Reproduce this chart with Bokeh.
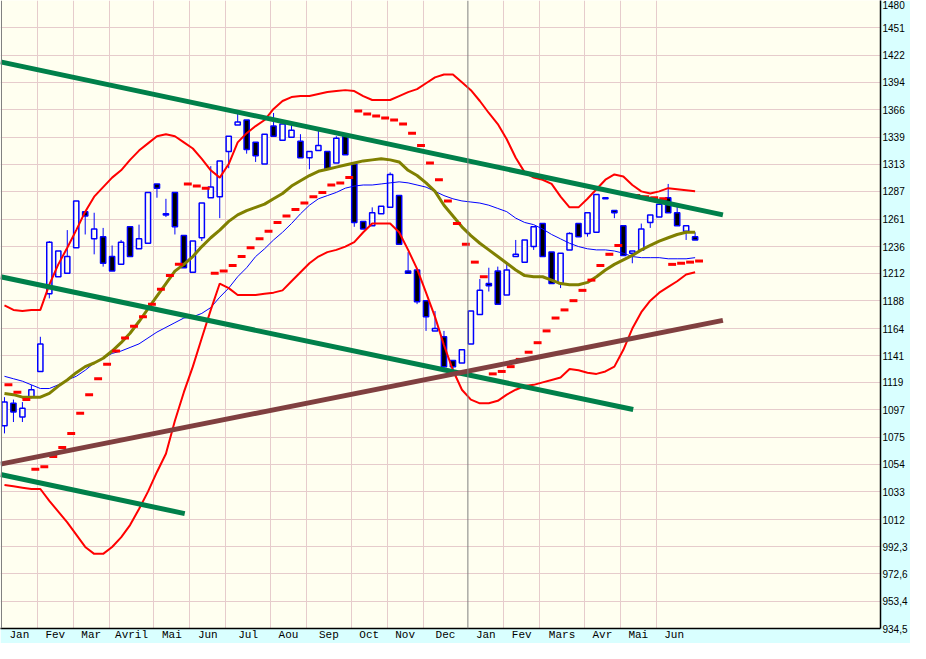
from bokeh.plotting import figure
from bokeh.models import Range1d, FixedTicker, CustomJSTickFormatter, Span, ColumnDataSource
from bokeh.embed import file_html
from bokeh.resources import INLINE

# ---- weekly candles (index = week) ----
open_ = [1084, 1102, 1091, 1107, 1128, 1194, 1209, 1212, 1235, 1268, 1243, 1245, 1227, 1220, 1254, 1234,
         1239, 1294, 1265, 1286, 1246, 1213, 1244, 1281, 1282, 1325, 1351, 1356, 1334, 1313, 1350, 1336,
         1339, 1335, 1319, 1326, 1325, 1314, 1340, 1313, 1259, 1255, 1266, 1272, 1283, 1214, 1215, 1188,
         1162, 1157, 1137, 1135, 1151, 1176, 1203, 1214, 1193, 1227, 1222, 1236, 1257, 1231, 1203, 1233,
         1257, 1248, 1249, 1280, 1269, 1255, 1230, 1233, 1258, 1263, 1281, 1267, 1250, 1245]
high = [1107, 1105, 1103, 1117, 1157, 1241, 1232, 1251, 1278, 1268, 1267, 1253, 1237, 1242, 1254, 1256,
        1286, 1294, 1280, 1286, 1246, 1241, 1276, 1311, 1316, 1340, 1365, 1356, 1334, 1342, 1363, 1352,
        1351, 1342, 1325, 1346, 1325, 1340, 1342, 1313, 1259, 1272, 1273, 1305, 1283, 1231, 1215, 1188,
        1179, 1162, 1137, 1146, 1179, 1207, 1217, 1218, 1222, 1242, 1242, 1254, 1257, 1231, 1230, 1249,
        1257, 1267, 1284, 1281, 1269, 1255, 1232, 1257, 1265, 1275, 1294, 1276, 1255, 1249]
low = [1078, 1087, 1087, 1106, 1128, 1190, 1209, 1212, 1235, 1247, 1229, 1218, 1214, 1220, 1227, 1234,
       1239, 1281, 1263, 1247, 1217, 1213, 1241, 1281, 1262, 1309, 1351, 1323, 1315, 1313, 1340, 1336,
       1339, 1319, 1308, 1326, 1308, 1314, 1322, 1254, 1252, 1255, 1266, 1272, 1238, 1212, 1185, 1162,
       1162, 1129, 1130, 1135, 1151, 1176, 1196, 1185, 1193, 1227, 1222, 1233, 1227, 1203, 1199, 1233,
       1245, 1245, 1249, 1280, 1262, 1228, 1221, 1233, 1253, 1263, 1267, 1255, 1242, 1242]
close = [1103, 1095, 1098, 1113, 1151, 1240, 1232, 1227, 1278, 1264, 1252, 1221, 1214, 1240, 1227, 1243,
         1286, 1290, 1266, 1254, 1217, 1241, 1276, 1291, 1316, 1340, 1354, 1327, 1321, 1342, 1340, 1352,
         1346, 1319, 1325, 1331, 1308, 1338, 1322, 1258, 1252, 1267, 1273, 1303, 1238, 1212, 1187, 1174,
         1164, 1132, 1132, 1146, 1179, 1197, 1201, 1185, 1215, 1229, 1242, 1254, 1227, 1203, 1230, 1248,
         1245, 1267, 1284, 1281, 1267, 1228, 1232, 1252, 1265, 1275, 1267, 1255, 1255, 1242]

# ---- indicators ----
upper_band = [1184, 1180, 1179, 1180, 1180, 1202, 1220, 1235, 1251, 1268, 1282, 1291, 1300, 1307, 1317, 1326,
              1333, 1340, 1342, 1340, 1334, 1328, 1318, 1307, 1300, 1313, 1334, 1343, 1350, 1356, 1367, 1375,
              1379, 1380, 1380, 1382, 1384, 1385, 1386, 1385, 1380, 1376, 1376, 1376, 1380, 1384, 1387, 1393,
              1399, 1402, 1402, 1394, 1386, 1375, 1363, 1352, 1337, 1319, 1305, 1300, 1298, 1294, 1282, 1272,
              1272, 1280, 1289, 1298, 1303, 1301, 1293, 1287, 1285, 1287, 1290, 1289, 1288, 1287]
lower_band = [1038, 1037, 1036, 1035, 1035, 1026, 1018, 1010, 1001, 992, 987, 987, 992, 999, 1008, 1020,
              1033, 1048, 1062, 1088, 1111, 1132, 1156, 1180, 1203, 1199, 1193, 1193, 1193, 1194, 1195, 1197,
              1205, 1213, 1221, 1227, 1231, 1233, 1236, 1240, 1249, 1257, 1257, 1257, 1249, 1233, 1216, 1195,
              1174, 1150, 1129, 1113, 1105, 1102, 1102, 1104, 1109, 1113, 1116, 1117, 1119, 1121, 1123, 1130,
              1129, 1127, 1126, 1128, 1132, 1146, 1164, 1178, 1188, 1195, 1200, 1205, 1211, 1213]
ma_olive = [1110, 1109, 1107, 1107, 1107, 1110, 1116, 1121, 1127, 1132, 1135, 1139, 1145, 1152, 1160, 1170,
            1181, 1192, 1203, 1214, 1220, 1227, 1236, 1244, 1251, 1259, 1265, 1269, 1272, 1275, 1280, 1285,
            1292, 1297, 1302, 1306, 1308, 1310, 1312, 1314, 1316, 1317, 1318, 1317, 1315, 1307, 1302, 1295,
            1287, 1274, 1264, 1254, 1246, 1239, 1233, 1227, 1221, 1215, 1210, 1209, 1209, 1206, 1203, 1202,
            1202, 1204, 1209, 1215, 1220, 1224, 1228, 1233, 1237, 1241, 1244, 1247, 1249, 1249]
ma_blue = [1124, 1122, 1120, 1117, 1114, 1114, 1117, 1121, 1124, 1129, 1135, 1139, 1143, 1145, 1148, 1151,
           1156, 1161, 1165, 1169, 1173, 1174, 1177, 1182, 1191, 1199, 1209, 1217, 1227, 1234, 1242, 1249,
           1257, 1266, 1274, 1280, 1283, 1286, 1290, 1292, 1293, 1293, 1294, 1295, 1296, 1295, 1293, 1291,
           1287, 1283, 1280, 1278, 1277, 1276, 1274, 1271, 1268, 1262, 1258, 1256, 1252, 1247, 1243, 1239,
           1236, 1234, 1233, 1233, 1232, 1230, 1227, 1226, 1226, 1226, 1225, 1225, 1225, 1226]
sar = [1117, 1111, 1105, 1050, 1052, 1060, 1067, 1078, 1094, 1109, 1122, 1134, 1145, 1156, 1166, 1174,
       1185, 1198, 1210, 1220, 1294, 1292, 1290, 1212, 1214, 1219, 1227, 1235, 1243, 1250, 1258, 1264,
       1270, 1276, 1282, 1286, 1293, 1295, 1300, 1365, 1362, 1360, 1358, 1356, 1352, 1343, 1331, 1314,
       1298, 1278, 1257, 1238, 1222, 1209, 1126, 1128, 1132, 1138, 1144, 1152, 1162, 1173, 1180, 1188,
       1197, 1206, 1219, 1229, 1237, 1284, 1283, 1282, 1281, 1280, 1220, 1221, 1222, 1223]

# ---- trend lines: (week, price) endpoints ----
trend_top_x, trend_top_y = [-0.44, 80.1], [1415, 1265]
trend_mid_x, trend_mid_y = [-0.44, 70.1], [1209, 1097]
trend_low_x, trend_low_y = [-0.44, 20.1], [1046, 1016.5]
support_x, support_y = [-0.44, 80.1], [1054, 1171]

# ---- axes ----
month_labels = ["Jan", "Fev", "Mar", "Avril", "Mai", "Jun", "Jul", "Aou", "Sep", "Oct", "Nov", "Dec",
                "Jan", "Fev", "Mars", "Avr", "Mai", "Jun"]
month_start = [0, 4, 8, 12, 17, 21, 25, 30, 34, 39, 43, 47, 52, 56, 60, 65, 69, 73, 77]
year_start = [0, 52]
price_ticks = [934.5, 953.4, 972.6, 992.3, 1012, 1033, 1054, 1075, 1097, 1119, 1141, 1164, 1188, 1212,
               1236, 1261, 1287, 1313, 1339, 1366, 1394, 1422, 1451, 1480]

BG = "#FFFFF0"
PANEL = "#D9FFFF"
GRID = "#E6CCCC"
OFF = 1.0 / 3.0  # candle drawn late in its week; grid at week start

n = len(close)
weeks = list(range(n))
src = ColumnDataSource(dict(x=weeks, h=high, l=low))
white_idx = [i for i in weeks if close[i] >= open_[i]]
black_idx = [i for i in weeks if close[i] < open_[i]]

p = figure(width=910, height=643, output_backend="svg", toolbar_location=None,
           y_axis_type="log", y_axis_location="right",
           x_range=Range1d(-0.444, 97.67), y_range=Range1d(934.5, 1480),
           min_border_left=0, min_border_top=0, min_border_right=27, min_border_bottom=13)
p.background_fill_color = BG
p.border_fill_color = PANEL
p.outline_line_color = None

# grids
p.ygrid.ticker = FixedTicker(ticks=price_ticks)
p.ygrid.grid_line_color = GRID
p.ygrid.grid_line_width = 1
p.xgrid.ticker = FixedTicker(ticks=[m - OFF for m in month_start[:-1] if m not in year_start])
p.xgrid.grid_line_color = GRID
p.xgrid.grid_line_width = 1
for ys in year_start:
    p.add_layout(Span(location=ys - OFF, dimension="height", line_color="#808080", line_width=1))

# y axis
ya = p.yaxis[0]
ya.ticker = FixedTicker(ticks=price_ticks)
ya.formatter = CustomJSTickFormatter(code="return String(tick).replace('.', ',')")
ya.major_tick_line_color = None
ya.minor_tick_line_color = None
ya.major_tick_out = 0
ya.major_tick_in = 0
ya.minor_tick_out = 0
ya.minor_tick_in = 0
ya.axis_line_color = "black"
ya.axis_line_width = 1.5
ya.major_label_standoff = 2
ya.major_label_text_font = "Liberation Sans"
ya.major_label_text_font_size = "10px"
ya.major_label_text_color = "black"

# x axis
xa = p.xaxis[0]
centers = [(month_start[k] + month_start[k + 1]) / 2 - OFF for k in range(len(month_labels))]
xa.ticker = FixedTicker(ticks=centers)
xa.formatter = CustomJSTickFormatter(args=dict(labels=month_labels), code="return labels[index]")
xa.major_tick_line_color = None
xa.minor_tick_line_color = None
xa.major_tick_out = 0
xa.major_tick_in = 0
xa.minor_tick_out = 0
xa.minor_tick_in = 0
xa.axis_line_color = "black"
xa.axis_line_width = 1.5
xa.major_label_standoff = 0
xa.major_label_text_font = "Liberation Mono"
xa.major_label_text_font_size = "11px"
xa.major_label_text_color = "black"

# candles
p.segment(x0="x", y0="h", x1="x", y1="l", source=src, line_color="#0000FF", line_width=1)
p.vbar(x=[weeks[i] for i in white_idx], top=[max(open_[i], close[i]) for i in white_idx],
       bottom=[min(open_[i], close[i]) for i in white_idx], width=0.58,
       fill_color=BG, line_color="#0000FF", line_width=1.5)
p.vbar(x=[weeks[i] for i in black_idx], top=[max(open_[i], close[i]) for i in black_idx],
       bottom=[min(open_[i], close[i]) for i in black_idx], width=0.58,
       fill_color="black", line_color="#0000FF", line_width=1.5)

# indicators
p.line(weeks, ma_blue, line_color="#0000FF", line_width=1)
p.line(weeks, ma_olive, line_color="#808000", line_width=3)
p.line(weeks, upper_band, line_color="#FF0000", line_width=2)
p.line(weeks, lower_band, line_color="#FF0000", line_width=2)
p.rect(x=[w + 0.44 for w in weeks], y=sar, width=0.88, height=3, height_units="screen",
       fill_color="#FF0000", line_color=None)

# trend lines
p.line(trend_top_x, trend_top_y, line_color="#00804A", line_width=5)
p.line(trend_mid_x, trend_mid_y, line_color="#00804A", line_width=5)
p.line(trend_low_x, trend_low_y, line_color="#00804A", line_width=5)
p.line(support_x, support_y, line_color="#804040", line_width=5)

open("out.html", "w").write(file_html(p, INLINE))
